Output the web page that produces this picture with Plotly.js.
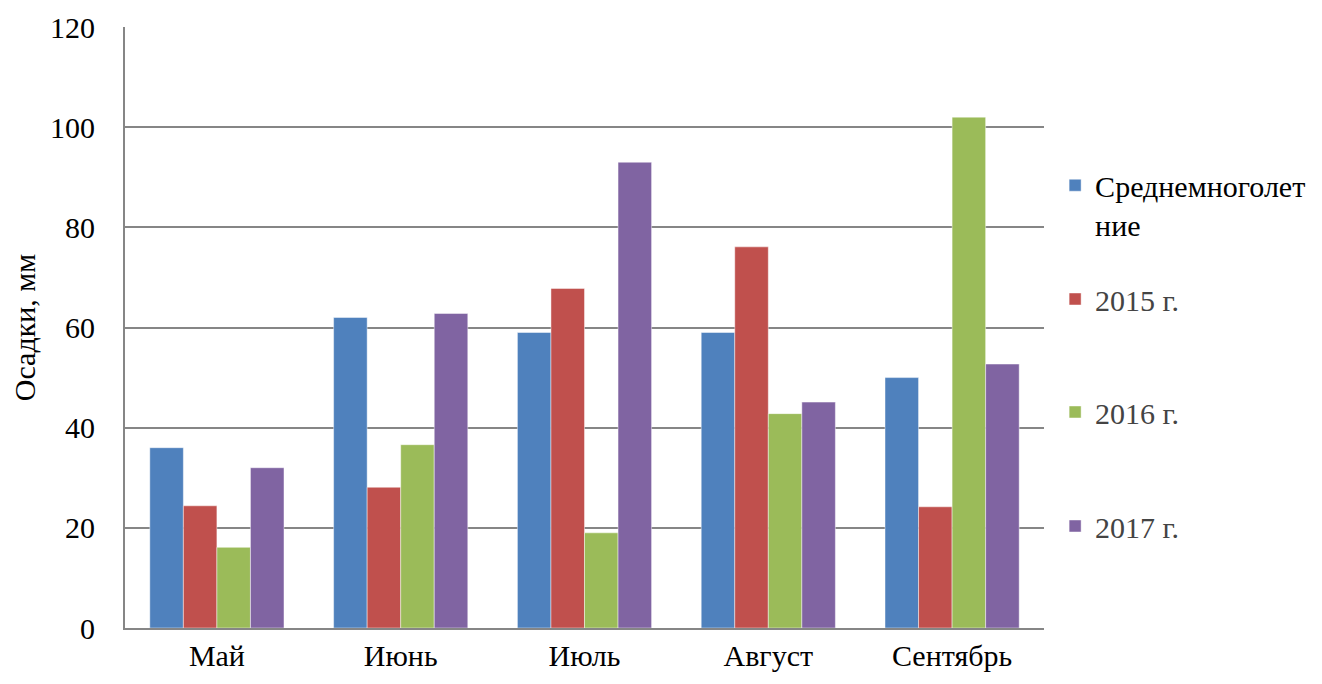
<!DOCTYPE html>
<html>
<head>
<meta charset="utf-8">
<script src="https://cdn.plot.ly/plotly-3.0.1.min.js"></script>
<style>
.main-svg .xtick text, .main-svg .ytick text, .main-svg .ytitle, .main-svg .legendtext { fill: #000 !important; }
</style>
</head>
<body style="margin:0">
<div id="chart"></div>
<script>
const months = ['Май', 'Июнь', 'Июль', 'Август', 'Сентябрь'];
const seriesNames = ['Среднемноголет<br>ние', '2015 г.', '2016 г.', '2017 г.'];
const avgValues = [36, 62, 59, 59, 50];
const y2015 = [24.4, 28.1, 67.8, 76.1, 24.2];
const y2016 = [16.1, 36.6, 19, 42.8, 102];
const y2017 = [32, 62.8, 93, 45.1, 52.7];
const yTicks = [0, 20, 40, 60, 80, 100, 120];
const colors = ['#4F81BD', '#C0504D', '#9BBB59', '#8064A2'];

const seriesValues = [avgValues, y2015, y2016, y2017];
const legendIds = ['legend', 'legend2', 'legend3', 'legend4'];
const legendTops = [0.78, 0.5907, 0.4027, 0.213];

const traces = seriesValues.map((vals, i) => ({
  type: 'bar',
  x: months,
  y: vals,
  name: seriesNames[i],
  legend: legendIds[i],
  marker: {color: colors[i], line: {color: 'rgba(255,255,255,0.45)', width: 1}}
}));

const layout = {
  width: 1322,
  height: 684,
  margin: {l: 125, r: 277, t: 27, b: 56},
  font: {family: 'Times New Roman', size: 30},
  barmode: 'group',
  bargap: 0.27,
  bargroupgap: 0,
  xaxis: {
    showline: true, linecolor: '#868686', linewidth: 2,
    showgrid: false, ticks: '',
    tickfont: {family: 'Times New Roman', size: 30},
    automargin: false
  },
  yaxis: {
    range: [0, 120], tickvals: yTicks,
    showline: true, linecolor: '#868686', linewidth: 2,
    showgrid: true, gridcolor: '#868686', gridwidth: 2,
    zeroline: false, ticks: 'outside', ticklen: 22, tickcolor: 'rgba(0,0,0,0)',
    tickfont: {family: 'Times New Roman', size: 30},
    title: {text: 'Осадки, мм', font: {family: 'Times New Roman', size: 30}, standoff: 6},
    automargin: false
  },
  showlegend: true
};
legendIds.forEach((id, i) => {
  layout[id] = {
    x: 1.011, xanchor: 'left', y: legendTops[i], yanchor: 'top',
    font: {family: 'Times New Roman', size: 30},
    valign: 'top'
  };
});

Plotly.newPlot('chart', traces, layout, {staticPlot: true});
</script>
</body>
</html>
